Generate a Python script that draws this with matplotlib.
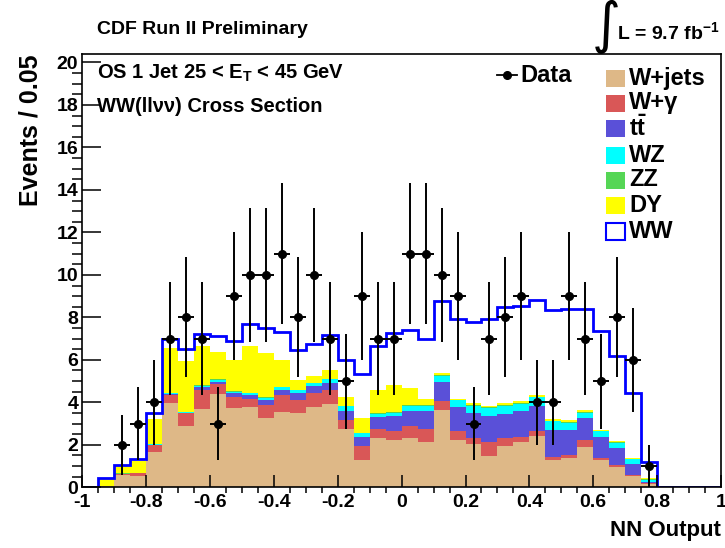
import numpy as np
import matplotlib
matplotlib.use('Agg')
import matplotlib.pyplot as plt
from matplotlib.patches import Rectangle
from matplotlib.lines import Line2D

plt.rcParams['font.family'] = ['Liberation Sans', 'DejaVu Sans']
plt.rcParams['font.weight'] = 'bold'
plt.rcParams['axes.labelweight'] = 'bold'
plt.rcParams['axes.unicode_minus'] = False
plt.rcParams['mathtext.fontset'] = 'custom'
plt.rcParams['mathtext.rm'] = 'Liberation Sans:bold'
plt.rcParams['mathtext.bf'] = 'Liberation Sans:bold'
plt.rcParams['mathtext.it'] = 'Liberation Sans:bold'

# 40 bins of width 0.05 on [-1, 1]
edges = np.linspace(-1, 1, 41)

data = [0, 0, 2, 3, 4, 7, 8, 7, 3, 9, 10, 10, 11, 8, 10, 7, 5, 9, 7, 7,
        11, 11, 10, 9, 3, 7, 8, 9, 4, 4, 9, 7, 5, 8, 6, 1, 0, 0, 0, 0]

wjets = [0, 0.05, 0.60, 0.54, 1.64, 3.96, 2.89, 3.68, 4.38, 3.72, 3.76, 3.24, 3.55, 3.49,
         3.79, 3.91, 2.74, 1.29, 2.31, 2.22, 2.30, 2.14, 3.63, 2.24, 2.03, 1.48, 1.95, 2.14,
         2.42, 1.29, 1.39, 1.91, 1.28, 0.96, 0.54, 0.15, 0, 0, 0, 0]
wgam = [0, 0, 0.02, 0.11, 0.34, 0.39, 0.60, 0.91, 0.46, 0.54, 0.39, 0.64, 0.79, 0.61,
        0.64, 0.66, 0.42, 0.66, 0.43, 0.44, 0.60, 0.60, 0.41, 0.42, 0.28, 0.63, 0.36, 0.25,
        0.24, 0.15, 0.14, 0.31, 0.12, 0.08, 0.05, 0.05, 0, 0, 0, 0]
ttbar = [0, 0, 0.01, 0.01, 0.02, 0.06, 0.03, 0.11, 0.14, 0.17, 0.19, 0.22, 0.26, 0.36,
         0.32, 0.33, 0.44, 0.44, 0.55, 0.71, 0.70, 0.83, 0.94, 1.11, 1.18, 1.26, 1.16, 1.21,
         1.18, 1.25, 1.16, 1.03, 0.95, 0.80, 0.50, 0.07, 0, 0, 0, 0]
wz = [0, 0, 0.01, 0.01, 0.03, 0.03, 0.02, 0.09, 0.08, 0.08, 0.09, 0.10, 0.10, 0.10,
      0.15, 0.19, 0.21, 0.16, 0.17, 0.15, 0.25, 0.27, 0.27, 0.32, 0.36, 0.36, 0.38, 0.33,
      0.39, 0.41, 0.36, 0.27, 0.28, 0.24, 0.22, 0.09, 0, 0, 0, 0]
zz = [0, 0, 0.01, 0.01, 0.02, 0.02, 0.02, 0.03, 0.03, 0.03, 0.03, 0.03, 0.03, 0.03,
      0.03, 0.03, 0.03, 0.03, 0.03, 0.03, 0.03, 0.03, 0.03, 0.03, 0.03, 0.03, 0.03, 0.03,
      0.03, 0.03, 0.03, 0.03, 0.03, 0.03, 0.02, 0.02, 0, 0, 0, 0]
dy = [0, 0.35, 0.33, 0.54, 1.15, 2.09, 2.39, 1.84, 1.26, 1.44, 2.17, 2.08, 1.25, 0.47,
      0.29, 0.41, 0.42, 0.66, 1.10, 1.26, 0.80, 0.28, 0.08, 0.06, 0.08, 0.08, 0.08, 0.08,
      0.08, 0.08, 0.10, 0.10, 0.05, 0.06, 0.03, 0.04, 0, 0, 0, 0]
ww = [0, 0.02, 0.06, 0.11, 0.29, 0.42, 0.58, 0.54, 0.75, 0.92, 1.05, 1.18, 1.35, 1.41,
      1.52, 1.65, 1.74, 2.09, 2.07, 2.44, 2.72, 2.82, 3.39, 3.73, 3.83, 4.07, 4.55, 4.50,
      4.50, 5.13, 5.20, 4.73, 4.65, 4.02, 3.07, 0.78, 0, 0, 0, 0]

labels = ['W+jets', 'W+\u03b3', r'$\mathbf{t\bar{t}}$', 'WZ', 'ZZ', 'DY', 'WW']
colors = ['#deb887', '#d95757', '#5a50d8', '#00ffff', '#55d655', '#ffff00']

W, H = 725, 548
fig = plt.figure(figsize=(W / 100, H / 100), dpi=100)
# axes frame in pixels: x 82..721, y 54..487
ax = fig.add_axes([82.3 / W, 1 - 487.3 / H, (721 - 82.3) / W, (487.3 - 54) / H])


def px(x, y):
    # figure pixel -> axes fraction
    return (x - 82.3) / (721 - 82.3), (487.3 - y) / (487.3 - 54)


# stacked backgrounds
bottom = np.zeros(40)
for vals, c in zip([wjets, wgam, ttbar, wz, zz, dy], colors):
    vals = np.array(vals)
    ax.stairs(bottom + vals, edges, baseline=bottom, fill=True, color=c, lw=0)
    bottom = bottom + vals

total = bottom + np.array(ww)
ax.stairs(total, edges, baseline=0, color='#0000ff', lw=2.0)

# data
data = np.array(data)
centers = 0.5 * (edges[:-1] + edges[1:])
m = data > 0
ax.errorbar(centers[m], data[m], yerr=np.sqrt(data[m]), xerr=0.025, fmt='o',
            color='black', ms=5.5, elinewidth=1.4, capsize=0, zorder=5)

ax.set_xlim(-1, 1)
ax.set_ylim(0, 20.4)
ax.set_xticks(np.arange(-1, 1.01, 0.2))
ax.set_xticklabels(['-1', '-0.8', '-0.6', '-0.4', '-0.2', '0', '0.2', '0.4', '0.6', '0.8', '1'])
ax.set_xticks(np.arange(-1, 1.001, 0.05), minor=True)
ax.set_yticks(np.arange(0, 20.1, 2))
ax.set_yticks(np.arange(0, 20.1, 0.5), minor=True)
ax.tick_params(direction='in', top=False, right=False, labelsize=14, width=1.1)
ax.tick_params(axis='x', which='major', length=8.6, pad=5)
ax.tick_params(axis='x', which='minor', length=4.3, width=1.1)
ax.tick_params(axis='y', which='major', length=13.5, pad=3)
ax.tick_params(axis='y', which='minor', length=7, width=1.1)
for s in ax.spines.values():
    s.set_linewidth(1.2)

ax.set_xlabel('NN Output', fontsize=16, loc='right', labelpad=6)
ax.set_ylabel('Events / 0.05', fontsize=18, loc='top', labelpad=10)

# annotations
fig.text(97 / W, 1 - 30 / H, 'CDF Run II Preliminary', fontsize=14, va='center', ha='left')
fig.text(592 / W, 1 - 27 / H, '\u222b', fontsize=40, va='center', ha='left',
         family='DejaVu Sans', fontweight='normal')
fig.text(617 / W, 1 - 32 / H, r'L = 9.7 fb$^{-1}$', fontsize=14, va='center', ha='left')
ax.text(*px(97, 73), r'OS 1 Jet 25 < E$_{\mathrm{T}}$ < 45 GeV', transform=ax.transAxes,
        fontsize=14.5, va='center', ha='left')
ax.text(*px(97, 106), 'WW(ll\u03bd\u03bd) Cross Section', transform=ax.transAxes,
        fontsize=14.5, va='center', ha='left')

# legend: data entry
x0, y0 = px(497, 75)
x1, _ = px(517, 75)
ax.add_line(Line2D([x0, x1], [y0, y0], color='black', lw=1.3, transform=ax.transAxes))
ax.plot([(x0 + x1) / 2], [y0], 'o', color='black', ms=5.5, transform=ax.transAxes)
ax.text(*px(520, 75), 'Data', transform=ax.transAxes, fontsize=17, va='center', ha='left')

# legend: backgrounds
row_y = [78, 103, 128, 155, 180, 205, 231]
for i, lab in enumerate(labels):
    bx, by = px(606, row_y[i] + 8.5)
    bw = 19 / (721 - 82.3)
    bh = 17 / (487.3 - 54)
    if i < 6:
        rect = Rectangle((bx, by), bw, bh, transform=ax.transAxes, facecolor=colors[i],
                         edgecolor='none')
    else:
        rect = Rectangle((bx, by), bw, bh, transform=ax.transAxes, facecolor='white',
                         edgecolor='#0000ff', lw=1.5)
    ax.add_patch(rect)
    ax.text(*px(629, row_y[i]), lab, transform=ax.transAxes, fontsize=17,
            va='center', ha='left')

fig.savefig('out.png', dpi=100)
